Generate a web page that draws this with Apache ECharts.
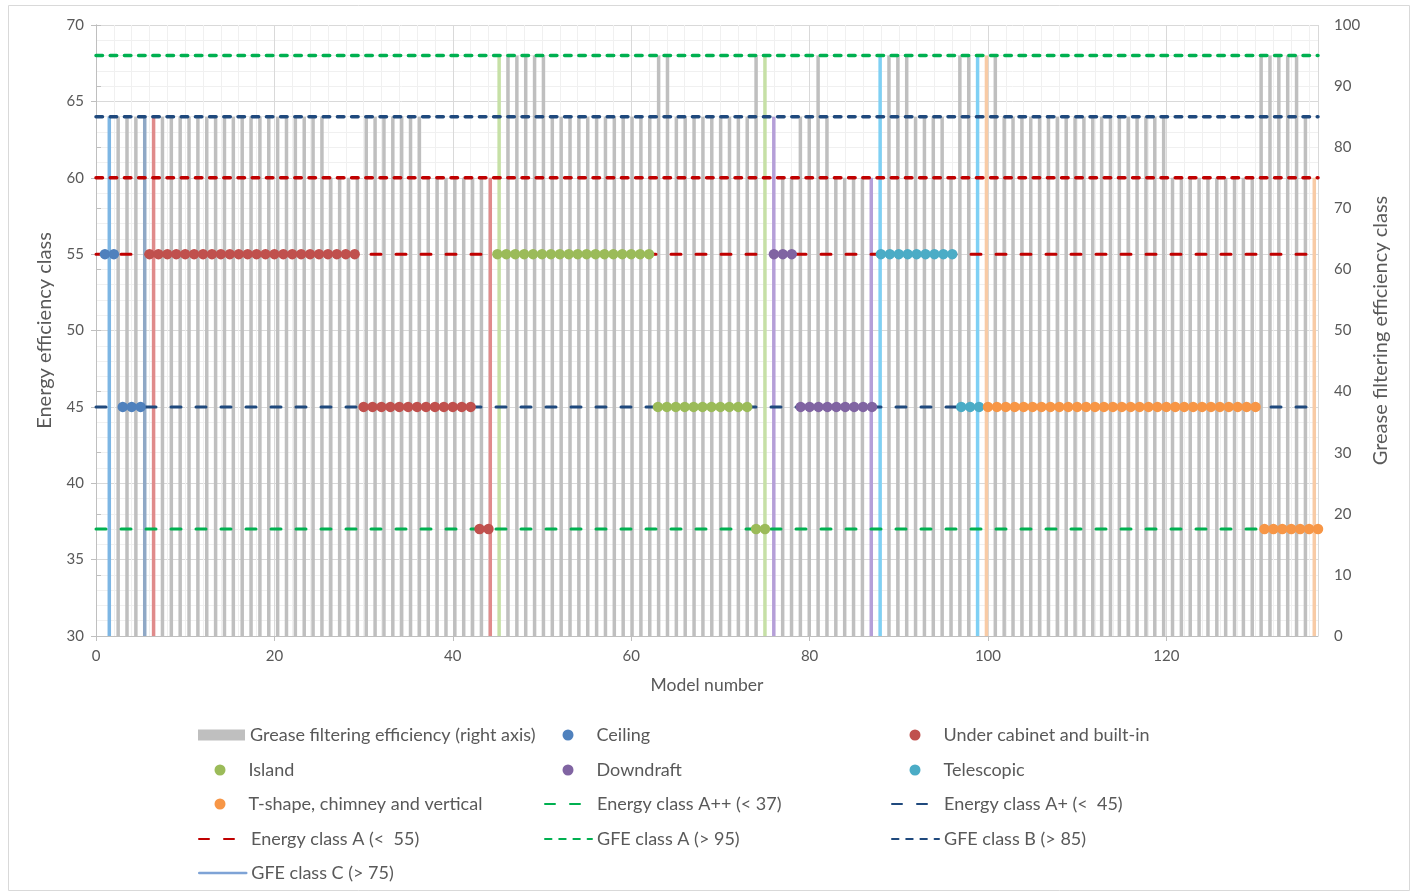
<!DOCTYPE html>
<html><head><meta charset="utf-8">
<script src="https://cdn.jsdelivr.net/npm/echarts@6/dist/echarts.min.js"></script>
<style>html,body{margin:0;padding:0;background:#fff}#c{width:1414px;height:894px}</style>
</head><body><div id="c"></div>
<script>
// ---- data ----
// Grease filtering efficiency per model (models 1..137, right axis)
const gfeValues = [
  85,85,85,85,85,85,85,85,85,85,
  85,85,85,85,85,85,85,85,85,85,
  85,85,85,85,85,75,75,75,75,85,
  85,85,85,85,85,85,75,75,75,75,
  75,75,75,75,95,95,95,95,95,95,
  85,85,85,85,85,85,85,85,85,85,
  85,85,95,95,85,85,85,85,85,85,
  85,85,85,95,95,85,75,75,85,85,
  95,85,75,75,75,75,75,95,95,95,
  95,85,85,85,85,75,95,95,95,95,
  95,85,85,85,85,85,85,85,85,85,
  85,85,85,85,85,85,85,85,85,85,
  75,75,75,75,75,75,75,75,75,75,
  95,95,95,95,95,85,75
];
// Energy efficiency class per model (models 1..137, left axis)
const energyValues = [
  55,55,45,45,45,55,55,55,55,55,
  55,55,55,55,55,55,55,55,55,55,
  55,55,55,55,55,55,55,55,55,45,
  45,45,45,45,45,45,45,45,45,45,
  45,45,37,37,55,55,55,55,55,55,
  55,55,55,55,55,55,55,55,55,55,
  55,55,45,45,45,45,45,45,45,45,
  45,45,45,37,37,55,55,55,45,45,
  45,45,45,45,45,45,45,55,55,55,
  55,55,55,55,55,55,45,45,45,45,
  45,45,45,45,45,45,45,45,45,45,
  45,45,45,45,45,45,45,45,45,45,
  45,45,45,45,45,45,45,45,45,45,
  37,37,37,37,37,37,37
];
const hoodTypes = ['Ceiling','Under cabinet and built-in','Island','Downdraft','Telescopic','T-shape, chimney and vertical'];
const hoodTypeLastModel = [5, 44, 75, 87, 99, 137];
const energyThresholds = [37, 45, 55];
const energyNames = ['Energy class A++ (< 37)', 'Energy class A+ (<  45)', 'Energy class A (<  55)'];
const gfeThresholds = [95, 85, 75];
const gfeNames = ['GFE class A (> 95)', 'GFE class B (> 85)', 'GFE class C (> 75)'];
const barName = 'Grease filtering efficiency (right axis)';
const modelRange = [0, 137];

// ---- styles ----
const FONT = 'Lato, "Noto Sans", sans-serif';
const TEXT = '#595959';
const typeColors = ['#4F81BD','#C0504D','#9BBB59','#8064A2','#4BACC6','#F79646'];
const boundaryBarColors = {1:'#7DB6E4',5:'#8FA8C6',6:'#E08B8B',44:'#E08B8B',45:'#C6E0A6',75:'#C6E0A6',
  76:'#B59FD8',87:'#B59FD8',88:'#7FD0F4',99:'#7FD0F4',100:'#F8CBA6',137:'#F8CBA6'};
const energyColors = ['#00B050','#1F497D','#C00000'];
const gfeColors = ['#00B050','#1F497D','#C00000'];

const series = [];
series.push({
  name: barName, type: 'bar', xAxisIndex: 2, yAxisIndex: 1, barWidth: 3.5, z: 2,
  itemStyle: {color: '#BFBFBF'},
  data: gfeValues.map((v, i) => {
    const m = i + 1;
    const it = {value: [m, v]};
    if (boundaryBarColors[m]) it.itemStyle = {color: boundaryBarColors[m]};
    return it;
  })
});
energyThresholds.forEach((v, i) => series.push({
  name: energyNames[i], type: 'line', xAxisIndex: 1, yAxisIndex: 0, symbol: 'none', silent: true, z: 3,
  lineStyle: {color: energyColors[i], width: 3, type: [10, 15], cap: 'round'},
  itemStyle: {color: energyColors[i]},
  data: [[modelRange[0], v], [modelRange[1], v]]
}));
gfeThresholds.forEach((v, i) => series.push({
  name: gfeNames[i], type: 'line', xAxisIndex: 1, yAxisIndex: 1, symbol: 'none', silent: true, z: 3,
  lineStyle: {color: gfeColors[i], width: 3.5, type: [6.5, 7.7], cap: 'round'},
  itemStyle: {color: gfeColors[i]},
  data: [[modelRange[0], v], [modelRange[1], v]]
}));
hoodTypes.forEach((t, ti) => {
  const first = ti === 0 ? 1 : hoodTypeLastModel[ti - 1] + 1;
  const data = [];
  for (let m = first; m <= hoodTypeLastModel[ti]; m++) data.push([m, energyValues[m - 1]]);
  series.push({name: t, type: 'scatter', xAxisIndex: 1, yAxisIndex: 0, symbol: 'circle', symbolSize: 10.5, z: 4,
    itemStyle: {color: typeColors[ti], opacity: 1}, data});
});

// legend grid: [name, col, row]
const legendLayout = [
  [barName,0,0],[hoodTypes[0],1,0],[hoodTypes[1],2,0],
  [hoodTypes[2],0,1],[hoodTypes[3],1,1],[hoodTypes[4],2,1],
  [hoodTypes[5],0,2],[energyNames[0],1,2],[energyNames[1],2,2],
  [energyNames[2],0,3],[gfeNames[0],1,3],[gfeNames[1],2,3],
  [gfeNames[2],0,4]
];
const colX = [198, 544, 891];
const dotColX = [214.5, 562.5, 909.5];
const rowY = [735, 770, 804, 839, 873];
const legends = legendLayout.map(([name, c, r]) => {
  const item = {name};
  let left = colX[c];
  if (name === barName) item.icon = 'rect';
  if (hoodTypes.includes(name)) { item.icon = 'circle'; left = dotColX[c]; }
  if (energyNames.includes(name) || gfeNames.includes(name)) item.itemStyle = {opacity: 0};
  if (name === gfeNames[2]) item.lineStyle = {color: '#7EA3D6', type: 'solid', width: 2.5};
  return {
    data: [item], left, top: rowY[r] - 11, orient: 'horizontal', selectedMode: false,
    itemWidth: 47, itemHeight: 11, itemGap: 0, padding: 0,
    textStyle: {color: TEXT, fontSize: 18, fontFamily: FONT, lineHeight: 22}
  };
});

const axisLineStyle = {color: '#BFBFBF', width: 1};
const option = {
  animation: false,
  textStyle: {fontFamily: FONT},
  graphic: [{type: 'rect', shape: {x: 8.5, y: 5.5, width: 1401, height: 885}, style: {fill: 'none', stroke: '#D9D9D9', lineWidth: 1}, silent: true, z: -10}],
  grid: {left: 96, right: 96, top: 25, bottom: 258, containLabel: false},
  legend: legends,
  xAxis: [
    {type: 'value', min: modelRange[0], max: modelRange[1], interval: 2, position: 'bottom',
      axisLine: {show: false}, axisTick: {show: false}, axisLabel: {show: false},
      splitLine: {show: true, lineStyle: {color: '#F0F0F0', width: 1}}},
    {type: 'value', min: modelRange[0], max: modelRange[1], interval: 20, position: 'bottom',
      name: 'Model number', nameLocation: 'middle', nameGap: 40,
      nameTextStyle: {color: TEXT, fontSize: 17.5, fontFamily: FONT},
      axisLine: {show: true, lineStyle: axisLineStyle},
      axisTick: {show: true, length: 5, lineStyle: axisLineStyle},
      axisLabel: {color: TEXT, fontSize: 15, fontFamily: FONT, margin: 13, showMaxLabel: false},
      splitLine: {show: true, lineStyle: {color: '#D9D9D9', width: 1}}},
    {type: 'value', min: -0.5, max: 137.42, show: false}
  ],
  yAxis: [
    {type: 'value', min: 30, max: 70, interval: 5, position: 'left',
      name: 'Energy efficiency class', nameLocation: 'middle', nameGap: 41, nameRotate: 90,
      nameTextStyle: {color: TEXT, fontSize: 20, fontFamily: FONT},
      axisLine: {show: true, lineStyle: axisLineStyle},
      axisTick: {show: true, length: 5, lineStyle: axisLineStyle},
      axisLabel: {color: TEXT, fontSize: 15, fontFamily: FONT, margin: 12},
      splitLine: {show: true, lineStyle: {color: '#D9D9D9', width: 1}},
      minorTick: {show: false, splitNumber: 5},
      minorSplitLine: {show: true, lineStyle: {color: '#F0F0F0', width: 1}}},
    {type: 'value', min: 0, max: 100, interval: 10, position: 'right',
      name: 'Grease filtering efficiency class', nameLocation: 'middle', nameGap: 53, nameRotate: 90,
      nameTextStyle: {color: TEXT, fontSize: 20, fontFamily: FONT},
      axisLine: {show: true, lineStyle: axisLineStyle},
      axisTick: {show: true, length: 5, lineStyle: axisLineStyle},
      axisLabel: {color: TEXT, fontSize: 15, fontFamily: FONT, margin: 16},
      splitLine: {show: false}}
  ],
  series
};
const chart = echarts.init(document.getElementById('c'), null, {renderer: 'canvas'});
chart.setOption(option);
</script></body></html>
